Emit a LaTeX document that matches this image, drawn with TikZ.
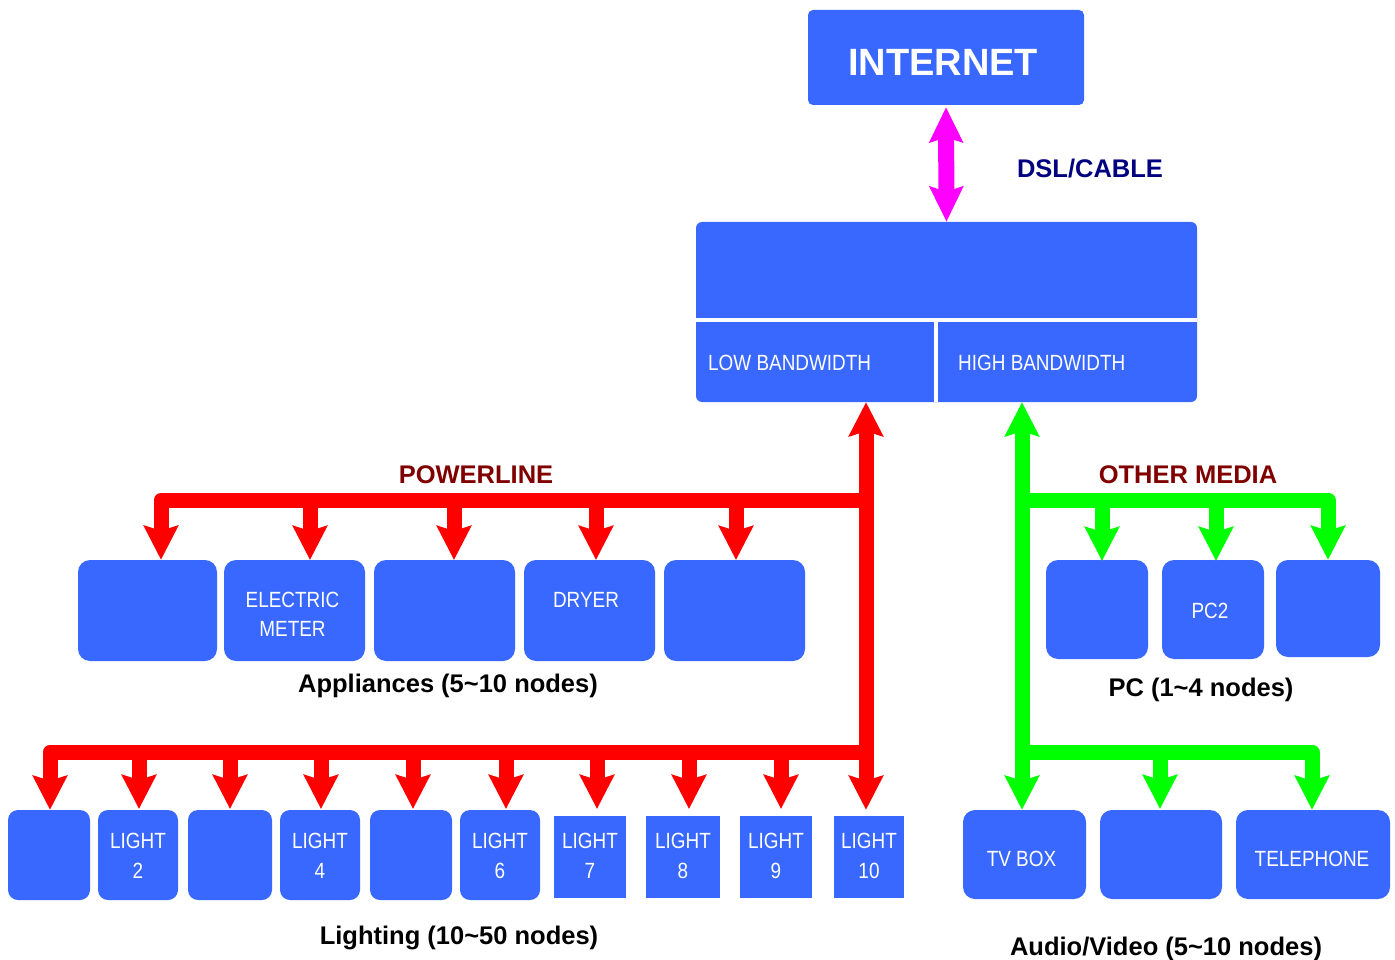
\documentclass[tikz,border=0pt]{standalone}
\usepackage{fontspec}
\setmainfont{Liberation Sans}
\newfontfamily\narrowfont[FakeStretch=0.86]{Liberation Sans}
\usetikzlibrary{arrows.meta}
\definecolor{boxblue}{RGB}{56,104,255}
\definecolor{dkred}{RGB}{128,0,0}
\definecolor{navyblue}{RGB}{0,0,128}
\definecolor{puremagenta}{RGB}{255,0,255}
\definecolor{purered}{RGB}{255,0,0}
\definecolor{puregreen}{RGB}{0,255,0}
\begin{document}
\begin{tikzpicture}[x=1pt,y=-1pt,
  >={Stealth[length=34pt,width=34pt,inset=5pt]},
  blk/.style={fill=boxblue, draw=none, inner sep=0pt, rounded corners=#1},
  bsz/.style args={#1/#2}{minimum width=#1pt, minimum height=#2pt},
  btxt/.style={anchor=base, inner sep=0pt, text=white, font=\narrowfont\fontsize{22}{30}\selectfont},
  lbl/.style={anchor=base, inner sep=0pt, text=#1, font=\bfseries\fontsize{25.5}{30}\selectfont},
  pipe/.style={draw=#1, line width=15pt, line join=round},
]
\useasboundingbox (0,0) rectangle (1395,960);

% ---- top boxes
\node[blk=5pt, bsz=276/95] (inet) at (946,57.5) {};
\node[anchor=base, inner sep=0pt, text=white, font=\bfseries\fontsize{38}{40}\selectfont] (inettxt) at (943,76) {INTERNET};
\node[blk=6pt, bsz=501/180] (main) at (946.5,312) {};
\draw[white, line width=4pt] (696,320) -- (1197,320);
\draw[white, line width=4pt] (936,320) -- (936,402);
\node[btxt, anchor=base west] (low) at (708,370) {LOW BANDWIDTH};
\node[btxt, anchor=base west] (high) at (958,370) {HIGH BANDWIDTH};

\draw[draw=puremagenta, line width=16pt, {Stealth[length=35pt,width=33pt,inset=5pt]}-{Stealth[length=35pt,width=33pt,inset=5pt]}] (inet.south) ++(0,2) -- (main.north);
\node[lbl=navyblue] (dsl) at (1090,178) {DSL/CABLE};

% ---- appliances
\foreach \n/\cx/\w in {A1/147.5/139, A2/294.5/141, A3/444.5/141, A4/589.5/131, A5/734.5/141}
  \node[blk=12pt, bsz=\w/101] (\n) at (\cx,610.5) {};
\node[btxt] (t-elec) at (292.5,607) {ELECTRIC};
\node[btxt] (t-meter) at (292.5,636) {METER};
\node[btxt] (t-dryer) at (586,607) {DRYER};
\node[lbl=black] (appl) at (448,692) {Appliances (5\textasciitilde10 nodes)};

% ---- lighting
\foreach \n/\cx/\w in {L1/49/82, L2/138/80, L3/230/84, L4/320/80, L5/411/82, L6/500/80}
  \node[blk=10pt, bsz=\w/90] (\n) at (\cx,855) {};
\foreach \n/\cx/\w in {L7/590/72, L8/683/74, L9/776/72, L10/869/70}
  \node[blk=0pt, bsz=\w/82] (\n) at (\cx,857) {};
\foreach \n/\k in {L2/2, L4/4, L6/6, L7/7, L8/8, L9/9, L10/10} {
  \node[btxt] at (\n.center |- 0,848) {LIGHT};
  \node[btxt] at (\n.center |- 0,878) {\k};
}
\node[lbl=black] (light) at (459,944) {Lighting (10\textasciitilde50 nodes)};

% ---- PC
\node[blk=12pt, bsz=102/99] (P1) at (1097,609.5) {};
\node[blk=12pt, bsz=102/99] (P2) at (1213,609.5) {};
\node[blk=12pt, bsz=104/97] (P3) at (1328,608.5) {};
\node[btxt] (t-pc2) at (1210,618) {PC2};
\node[lbl=black] (pclbl) at (1201,696) {PC (1\textasciitilde4 nodes)};

% ---- audio/video
\node[blk=12pt, bsz=123/89] (V1) at (1024.5,854.5) {};
\node[blk=12pt, bsz=122/89] (V2) at (1161,854.5) {};
\node[blk=12pt, bsz=154/89] (V3) at (1313,854.5) {};
\node[btxt] (t-tv) at (1021.5,866) {TV BOX};
\node[btxt] (t-tel) at (1312,866) {TELEPHONE};
\node[lbl=black] (avlbl) at (1166,955) {Audio/Video (5\textasciitilde10 nodes)};

% ---- labels
\node[lbl=dkred] (pwr) at (476,483) {POWERLINE};
\node[lbl=dkred] (oth) at (1188,483) {OTHER MEDIA};

% ---- red powerline connectors
\coordinate (rt) at (866,0);
\coordinate (rj1) at (866,500);
\coordinate (rj2) at (866,752);
\coordinate (ap1) at (161,500);
\coordinate (lb1) at (50,752);
\draw[pipe=purered, ->] (rj1) -- (ap1) -- (ap1 |- A1.north);
\foreach \x in {310,454,596,736}
  \draw[pipe=purered, ->] (\x,500) -- (\x,560);
\draw[pipe=purered, ->] (rj2) -- (lb1) -- (lb1 |- L1.north);
\foreach \x in {139,230,321,413,506,597,689,781}
  \draw[pipe=purered, ->] (\x,752) -- (\x,809);
\draw[pipe=purered, <->] (main.south -| rt) -- (L1.north -| rt);

% ---- green other-media connectors
\coordinate (gt) at (1022,0);
\coordinate (gj1) at (1022,500);
\coordinate (gj2) at (1022,752);
\coordinate (pc3) at (1328,500);
\coordinate (av3) at (1312,752);
\draw[pipe=puregreen, ->] (gj1) -- (pc3) -- (pc3 |- P1.north);
\foreach \x in {1102,1216}
  \draw[pipe=puregreen, ->] (\x,500) -- (\x,561);
\draw[pipe=puregreen, ->] (gj2) -- (av3) -- (av3 |- V1.north);
\draw[pipe=puregreen, ->] (1160,752) -- (1160,809);
\draw[pipe=puregreen, <->] (main.south -| gt) -- (V1.north -| gt);
\end{tikzpicture}
\end{document}
